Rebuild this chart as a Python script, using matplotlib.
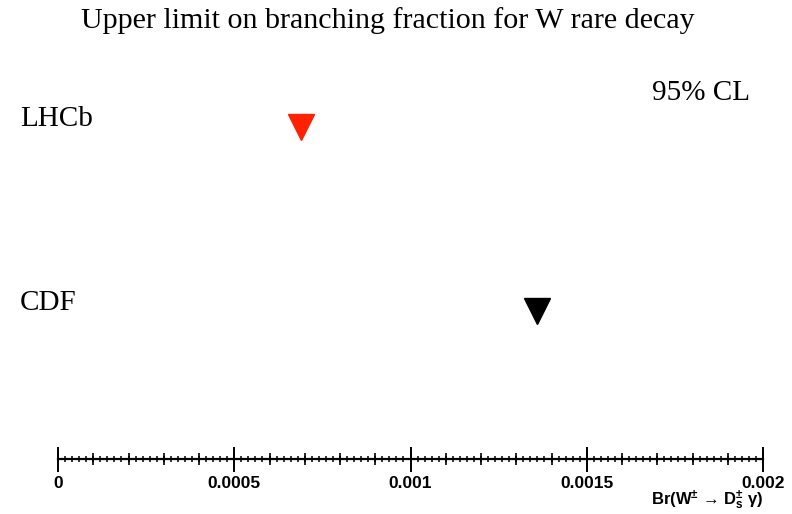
import matplotlib
matplotlib.use("Agg")
import matplotlib.pyplot as plt
from matplotlib.ticker import MultipleLocator, FixedLocator, FixedFormatter

experiments = ["LHCb", "CDF"]
limits = [0.00069, 0.00136]
colors = ["#ff2200", "black"]
ypos = [1, 0]
tick_values = [0, 0.0005, 0.001, 0.0015, 0.002]
tick_labels = ["0", "0.0005", "0.001", "0.0015", "0.002"]

plt.rcParams['mathtext.fontset'] = 'custom'
plt.rcParams['mathtext.rm'] = 'Liberation Sans:bold'
plt.rcParams['mathtext.bf'] = 'Liberation Sans:bold'
plt.rcParams['mathtext.it'] = 'Liberation Sans:bold'

W, H = 792, 514
fig = plt.figure(figsize=(W / 100, H / 100), dpi=100)
ax = fig.add_axes([58 / W, (H - 459) / H, 705 / W, 459 / H])
ax.patch.set_alpha(0)

for y, lim, c in zip(ypos, limits, colors):
    ax.plot(lim, y, marker="v", ms=19, color=c, mec=c, ls="none")

for name, y in zip(experiments, ypos):
    ax.annotate(name, xy=(20 / W, y), xycoords=("figure fraction", "data"),
                xytext=(0, 1), textcoords="offset points",
                family="Liberation Serif", fontsize=21, va="baseline", ha="left")

ax.set_xlim(0, 0.002)
ax.set_ylim(-0.804, 1.69)

for s in ["top", "left", "right"]:
    ax.spines[s].set_visible(False)
ax.spines["bottom"].set_linewidth(1.6)
ax.set_yticks([])

ax.xaxis.set_major_locator(FixedLocator(tick_values))
ax.xaxis.set_major_formatter(FixedFormatter(tick_labels))
ax.xaxis.set_minor_locator(MultipleLocator(0.00002))
ax.tick_params(axis="x", which="major", direction="inout", length=18, width=1.4, pad=3,
               labelsize=12.5)
ax.tick_params(axis="x", which="minor", direction="inout", length=4.5, width=1.1)
for lab in ax.get_xticklabels():
    lab.set_fontweight("bold")
    lab.set_family("Liberation Sans")

sec = ax.secondary_xaxis("bottom")
sec.xaxis.set_major_locator(MultipleLocator(0.0001))
sec.tick_params(axis="x", which="major", direction="inout", length=8, width=1.2,
                labelbottom=False)
sec.xaxis.set_minor_locator(FixedLocator([]))
sec.spines["bottom"].set_visible(False)

fig.text(763 / W, 1 - 500 / H,
         "Br(W$^{\\pm}$ \u2192 D$_{s}^{\\pm}$ \u03b3)",
         ha="right", va="center", fontsize=12, fontweight="bold",
         family=["Liberation Sans", "DejaVu Sans"])

fig.text(388 / W, 1 - 21 / H, "Upper limit on branching fraction for W rare decay",
         family="Liberation Serif", fontsize=21.6, ha="center", va="center")
fig.text(750 / W, 1 - 93 / H, "95% CL", family="Liberation Serif", fontsize=21,
         ha="right", va="center")

fig.savefig("out.png", dpi=100)
